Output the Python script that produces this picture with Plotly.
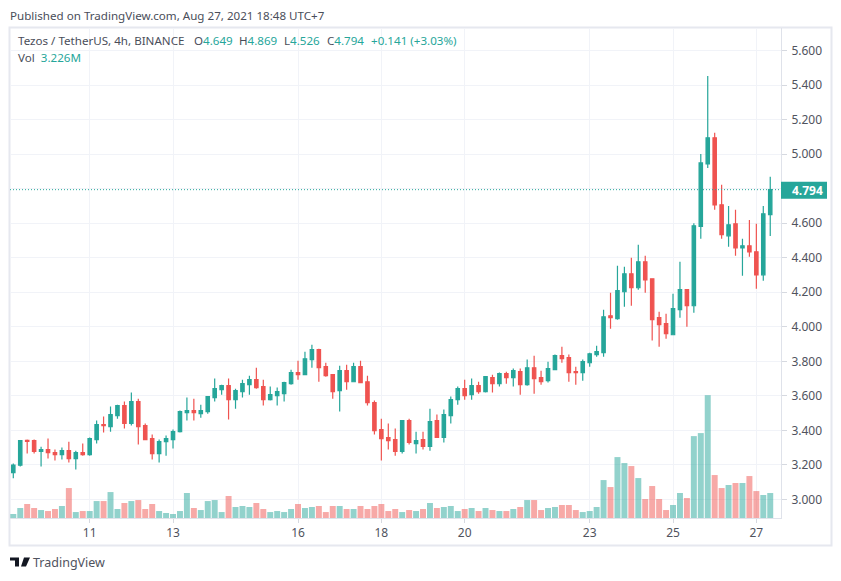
import plotly.graph_objects as go

opens = [3.156,3.199,3.343,3.341,3.278,3.289,3.272,3.26,3.283,3.237,
 3.272,3.26,3.347,3.434,3.422,3.486,3.544,3.44,3.567,3.428,
 3.353,3.266,3.335,3.347,3.393,3.503,3.515,3.497,3.509,3.59,
 3.636,3.659,3.578,3.625,3.665,3.694,3.654,3.578,3.602,3.613,
 3.671,3.735,3.723,3.81,3.868,3.769,3.723,3.63,3.746,3.682,
 3.769,3.682,3.561,3.405,3.359,3.347,3.278,3.457,3.324,3.347,
 3.307,3.457,3.359,3.486,3.578,3.642,3.607,3.659,3.625,3.706,
 3.671,3.729,3.706,3.74,3.665,3.763,3.706,3.688,3.752,3.833,
 3.821,3.74,3.735,3.792,3.839,3.85,4.064,4.047,4.203,4.307,
 4.226,4.376,4.278,4.053,4.018,3.954,4.099,4.215,4.122,4.581,
 4.943,5.094,4.706,4.527,4.596,4.457,4.469,4.434,4.301,4.649]
highs = [3.208,3.341,3.347,3.347,3.305,3.353,3.289,3.301,3.335,3.283,
 3.324,3.359,3.457,3.48,3.538,3.549,3.567,3.619,3.584,3.44,
 3.376,3.347,3.37,3.405,3.515,3.59,3.584,3.549,3.596,3.7,
 3.665,3.7,3.642,3.694,3.717,3.763,3.694,3.654,3.648,3.682,
 3.752,3.804,3.856,3.896,3.873,3.792,3.723,3.775,3.781,3.792,
 3.804,3.717,3.573,3.468,3.44,3.411,3.457,3.468,3.393,3.393,
 3.526,3.492,3.521,3.596,3.654,3.694,3.7,3.682,3.711,3.723,
 3.735,3.74,3.758,3.758,3.81,3.833,3.746,3.798,3.839,3.885,
 3.839,3.769,3.81,3.85,3.891,4.099,4.197,4.353,4.348,4.4,
 4.475,4.411,4.278,4.087,4.076,4.191,4.376,4.215,4.6,5.001,
 5.452,5.123,4.822,4.7,4.677,4.51,4.619,4.596,4.7,4.869]
lows = [3.123,3.191,3.266,3.266,3.191,3.237,3.226,3.231,3.214,3.174,
 3.254,3.254,3.324,3.388,3.393,3.468,3.411,3.428,3.318,3.347,
 3.231,3.214,3.254,3.295,3.388,3.457,3.457,3.474,3.497,3.567,
 3.607,3.463,3.526,3.59,3.607,3.642,3.544,3.573,3.544,3.567,
 3.665,3.694,3.723,3.763,3.682,3.711,3.584,3.509,3.636,3.682,
 3.677,3.544,3.376,3.226,3.289,3.254,3.266,3.318,3.266,3.289,
 3.283,3.359,3.33,3.44,3.549,3.578,3.578,3.613,3.619,3.619,
 3.654,3.671,3.654,3.607,3.659,3.613,3.665,3.677,3.752,3.792,
 3.682,3.665,3.688,3.769,3.827,3.827,3.989,4.041,4.116,4.122,
 4.215,4.197,3.92,3.885,3.931,3.954,4.053,4.0,4.082,4.51,
 4.92,4.677,4.51,4.463,4.411,4.296,4.405,4.22,4.267,4.526]
closes = [3.2,3.341,3.337,3.278,3.289,3.272,3.26,3.283,3.237,3.272,
 3.26,3.353,3.434,3.428,3.492,3.544,3.44,3.567,3.422,3.347,
 3.266,3.335,3.353,3.393,3.509,3.515,3.503,3.515,3.596,3.642,
 3.659,3.578,3.63,3.671,3.694,3.648,3.578,3.607,3.625,3.677,
 3.735,3.723,3.815,3.868,3.763,3.717,3.625,3.746,3.682,3.769,
 3.677,3.561,3.399,3.353,3.341,3.278,3.457,3.33,3.341,3.307,
 3.451,3.359,3.492,3.578,3.642,3.602,3.659,3.625,3.711,3.671,
 3.729,3.706,3.746,3.665,3.763,3.7,3.682,3.758,3.833,3.815,
 3.735,3.735,3.798,3.844,3.856,4.058,4.053,4.209,4.307,4.226,
 4.376,4.272,4.041,4.012,3.96,4.105,4.215,4.122,4.585,4.949,
 5.094,4.706,4.533,4.591,4.457,4.469,4.434,4.301,4.654,4.794]
volumes = [.52,1.29,1.81,1.29,1.03,.90,1.16,1.55,3.87,.77,
 .90,.90,2.19,2.19,3.35,1.16,1.94,2.19,2.32,1.16,
 1.81,.90,.65,.52,.90,3.23,1.29,1.03,2.19,2.32,
 .77,2.84,1.42,1.55,1.42,1.94,1.16,.77,.90,.77,
 1.16,1.81,1.29,1.42,1.55,.77,1.55,1.55,1.16,1.16,
 1.55,1.16,1.55,1.81,.90,1.16,.77,1.03,.90,1.16,
 1.94,1.29,1.42,1.55,.90,1.16,1.29,.90,1.29,1.03,
 .90,.90,1.16,1.42,2.32,2.32,1.03,1.29,1.42,1.68,
 1.68,1.03,.77,.90,1.42,4.90,4.00,7.87,7.10,6.71,
 5.16,2.45,4.13,2.45,1.03,1.68,3.23,2.58,10.58,10.97,
 15.87,5.55,3.87,4.26,4.52,4.52,5.42,3.48,2.97,3.226]
bar_index = list(range(len(closes)))
date_ticks = [11, 23, 41, 53, 65, 83, 95, 107]
date_labels = ["11", "13", "16", "18", "20", "23", "25", "27"]
price_ticks = [3.0,3.2,3.4,3.6,3.8,4.0,4.2,4.4,4.6,4.8,5.0,5.2,5.4,5.6]
price_labels = ["3.000","3.200","3.400","3.600","3.800","4.000","4.200","4.400","4.600","",
                "5.000","5.200","5.400","5.600"]

GREEN = "#26a69a"; RED = "#ef5350"
GRID = "#f1f3f8"; BORDER = "#e6e8ef"; TXT = "#50535e"
FONT = "Noto Sans"
PAGE = 8                      # browser body margin
W, H = 841 - PAGE, 581 - PAGE
L, R, T, B = 10, 781, 28, 518.5   # plot area in window pixels

def px(x): return (x - L) / (R - L)
def py(y): return (B - y) / (B - T)

fig = go.Figure()
fig.add_trace(go.Candlestick(
    x=bar_index, open=opens, high=highs, low=lows, close=closes,
    increasing=dict(line=dict(color=GREEN, width=1.2), fillcolor=GREEN),
    decreasing=dict(line=dict(color=RED, width=1.2), fillcolor=RED),
    whiskerwidth=0, showlegend=False, yaxis="y"))
fig.add_trace(go.Bar(
    x=bar_index, y=volumes, yaxis="y2", showlegend=False,
    marker=dict(color=["rgba(38,166,154,0.5)" if c >= o else "rgba(239,83,80,0.5)"
                       for o, c in zip(opens, closes)], line=dict(width=0))))

def span(color, s): return f'<span style="color:{color}">{s}</span>'
i = -1

def text(x, y, s, size=11.6, color="#4a4e5a", **kw):
    return dict(xref="paper", yref="paper", x=px(x), y=py(y), text=s, showarrow=False,
                xanchor="left", yanchor="middle", xshift=-2,
                font=dict(family=FONT, size=size, color=color), **kw)

annotations = [
    text(10, 15, "Published on TradingView.com, Aug 27, 2021 18:48 UTC+7"),
    text(18, 41, "Tezos / TetherUS, 4h, BINANCE"),
    text(194, 41, "O" + span(GREEN, f"{opens[i]:.3f}")),
    text(239, 41, "H" + span(GREEN, f"{highs[i]:.3f}")),
    text(284, 41, "L" + span(GREEN, f"{lows[i]:.3f}")),
    text(327, 41, "C" + span(GREEN, f"{closes[i]:.3f}")),
    text(371, 41, span(GREEN, "+0.141 (+3.03%)")),
    text(18, 58, "Vol  " + span(GREEN, "3.226M")),
    text(33, 563, "TradingView", 12.5, color="#50535e"),
    text(792, 190.5, f"<b>{closes[-1]:.3f}</b>", 12, color="white"),
]

shapes = [
    dict(type="rect", xref="paper", yref="paper", x0=px(9.5), x1=px(831.5), y0=py(546), y1=py(27.5),
         line=dict(color=BORDER, width=2), layer="below"),
    dict(type="line", xref="paper", yref="y", x0=0, x1=1, y0=closes[-1], y1=closes[-1],
         line=dict(color=GREEN, width=1, dash="1px,2px")),
    dict(type="rect", xref="paper", yref="paper", x0=px(781), x1=px(827), y0=py(199), y1=py(182),
         fillcolor=GREEN, line=dict(width=0)),
    dict(type="path", xref="paper", yref="paper", xsizemode="pixel", ysizemode="pixel",
         xanchor=px(0), yanchor=py(581),
         path="M10,23 H19 V14 H15 V20 H10 Z M21,23 A2.2,2.2 0 1 1 20.9,23 Z M24,23 H30 L26,14 H21 Z",
         fillcolor="#131722", line=dict(width=0)),
]

fig.update_layout(
    width=W, height=H, autosize=False,
    margin=dict(l=L - PAGE, r=W + PAGE - R, t=T - PAGE, b=H + PAGE - B, pad=0),
    paper_bgcolor="white", plot_bgcolor="white",
    bargap=0.14, boxgap=0.3,
    hovermode=False,
    xaxis=dict(type="linear", range=[-0.475, 110.55], tickmode="array",
               tickvals=date_ticks, ticktext=date_labels, showgrid=True, gridcolor=GRID, gridwidth=1,
               zeroline=False, rangeslider=dict(visible=False), ticks="outside", ticklen=4,
               tickcolor="#d6d9e0", tickfont=dict(family=FONT, size=12, color=TXT),
               showline=True, linecolor="#dfe2ea", linewidth=1),
    yaxis=dict(side="right", range=[2.893, 5.73], tickmode="array", tickvals=price_ticks,
               ticktext=price_labels, showgrid=True, gridcolor=GRID, gridwidth=1, zeroline=False,
               ticks="outside", ticklen=5, tickcolor="#d6d9e0", ticklabelstandoff=2,
               tickfont=dict(family=FONT, size=12, color=TXT),
               showline=True, linecolor="#dfe2ea", linewidth=1),
    yaxis2=dict(overlaying="y", range=[0, 63.3], visible=False, fixedrange=True),
    annotations=annotations, shapes=shapes,
    font=dict(family=FONT),
)
fig.write_html("out.html")
